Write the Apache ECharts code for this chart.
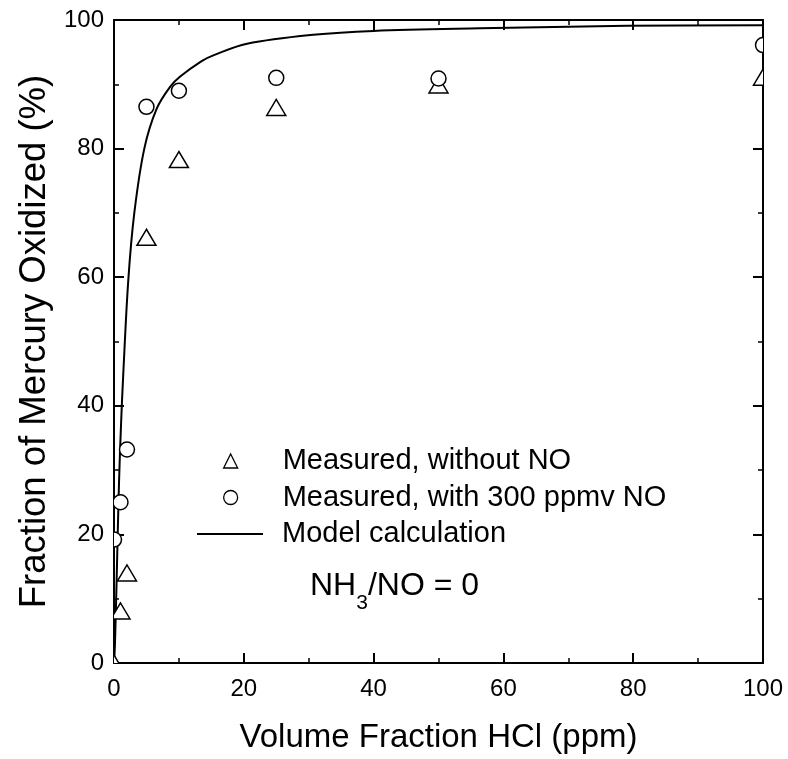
<!DOCTYPE html>
<html>
<head>
<meta charset="utf-8">
<script src="https://cdn.jsdelivr.net/npm/echarts@6/dist/echarts.min.js"></script>
<style>
  html, body { margin: 0; padding: 0; background: #fff; }
  #chart { width: 788px; height: 759px; }
</style>
</head>
<body>
<div id="chart"></div>
<script>
// HCl volume fraction (ppm) and fraction of Hg oxidized (%)
const withoutNO = [[0, 0], [1, 8.1], [2, 14.0], [5, 66.2], [10, 78.3], [25, 86.4], [50, 89.9], [100, 91.1]];
const withNO = [[0, 19.2], [1, 25.0], [2, 33.2], [5, 86.5], [10, 89.0], [25, 91.0], [50, 90.9], [100, 96.1]];
const modelCurve = [
  [0, 0], [0.15, 3], [0.42, 13.5], [0.77, 28], [1.08, 37], [1.43, 45], [2.2, 59.5],
  [3.13, 70], [4.67, 80], [6.58, 86.2], [8.64, 89.6], [10.2, 91.2], [13.5, 93.6],
  [15.3, 94.5], [20.5, 96.3], [30.7, 97.7], [40, 98.3], [56.4, 98.7], [79.1, 99.1], [100, 99.2]
];
const seriesNames = ['Measured, without NO', 'Measured, with 300 ppmv NO', 'Model calculation'];
const xTitle = 'Volume Fraction HCl (ppm)';
const yTitle = 'Fraction of Mercury Oxidized (%)';

const FONT = "'Liberation Sans', Arial, Helvetica, sans-serif";
const markerStyle = { fill: '#fff', stroke: '#000', lineWidth: 1.5 };
const legendText = { fontSize: 29, color: '#000', fontFamily: FONT, lineHeight: 30 };
const openIcon = { color: '#fff', borderColor: '#000', borderWidth: 1.3 };

function renderMarker(kind) {
  return function (params, api) {
    const p = api.coord([api.value(0), api.value(1)]);
    if (kind === 'circle') {
      return { type: 'circle', shape: { cx: p[0], cy: p[1], r: 7.5 }, style: markerStyle };
    }
    return {
      type: 'polygon',
      shape: { points: [[p[0], p[1] - 8], [p[0] - 9.5, p[1] + 8], [p[0] + 9.5, p[1] + 8]] },
      style: markerStyle
    };
  };
}

function frameAxis(pos, showLabels, margin, extra) {
  return Object.assign({
    type: 'value',
    position: pos,
    min: 0, max: 100, interval: 20,
    axisLine: { show: true, onZero: false, lineStyle: { color: '#000', width: 2 } },
    axisTick: { show: true, inside: true, length: 10, lineStyle: { color: '#000', width: 2 } },
    minorTick: { show: true, splitNumber: 2, length: 5, lineStyle: { color: '#000', width: 1.5 } },
    splitLine: { show: false },
    axisLabel: { show: showLabels, fontSize: 24, color: '#000', fontFamily: FONT, margin: margin }
  }, extra || {});
}

const chart = echarts.init(document.getElementById('chart'), null, { renderer: 'canvas' });
chart.setOption({
  backgroundColor: '#fff',
  animation: false,
  grid: { left: 114, right: 25, top: 20, bottom: 91 },
  xAxis: [
    frameAxis('bottom', true, 14, {
      name: xTitle, nameLocation: 'middle', nameGap: 58,
      nameTextStyle: { fontSize: 33, color: '#000', fontFamily: FONT }
    }),
    frameAxis('top', false, 10)
  ],
  yAxis: [
    frameAxis('left', true, 10, {
      name: yTitle, nameLocation: 'middle', nameGap: 61,
      nameTextStyle: { fontSize: 36.5, color: '#000', fontFamily: FONT }
    }),
    frameAxis('right', false, 10)
  ],
  legend: [
    {
      // open-marker entries
      orient: 'vertical', left: 223, top: 446, padding: 0,
      itemGap: 6.5, itemWidth: 14, itemHeight: 14, selectedMode: false,
      textStyle: Object.assign({ padding: [0, 0, 0, 40] }, legendText),
      data: [
        { name: seriesNames[0], icon: 'triangle', itemStyle: openIcon },
        { name: seriesNames[1], icon: 'circle', itemStyle: openIcon }
      ]
    },
    {
      // model line entry
      orient: 'vertical', left: 197, top: 519, padding: 0,
      itemWidth: 66, itemHeight: 2, selectedMode: false,
      textStyle: Object.assign({ padding: [0, 0, 0, 14] }, legendText),
      data: [{ name: seriesNames[2], icon: 'rect', itemStyle: { color: '#000', borderWidth: 0 } }]
    }
  ],
  graphic: [{
    type: 'text', left: 310, top: 570, z: 100,
    style: {
      text: '{m|NH}{s|3}{m|/NO = 0}',
      rich: {
        m: { fontSize: 32, fontFamily: FONT, fill: '#000', lineHeight: 56, verticalAlign: 'middle' },
        s: { fontSize: 21, fontFamily: FONT, fill: '#000', lineHeight: 21, verticalAlign: 'bottom' }
      }
    }
  }],
  series: [
    {
      name: seriesNames[2], type: 'line', data: modelCurve,
      xAxisIndex: 0, yAxisIndex: 0,
      showSymbol: false, symbol: 'none', smooth: 0.35,
      lineStyle: { color: '#000', width: 2 }, itemStyle: { color: '#000' }, z: 2
    },
    {
      name: seriesNames[0], type: 'custom', data: withoutNO,
      xAxisIndex: 0, yAxisIndex: 0, clip: true, z: 3,
      encode: { x: 0, y: 1 },
      itemStyle: openIcon,
      renderItem: renderMarker('triangle')
    },
    {
      name: seriesNames[1], type: 'custom', data: withNO,
      xAxisIndex: 0, yAxisIndex: 0, clip: true, z: 3,
      encode: { x: 0, y: 1 },
      itemStyle: openIcon,
      renderItem: renderMarker('circle')
    }
  ]
});
</script>
</body>
</html>
